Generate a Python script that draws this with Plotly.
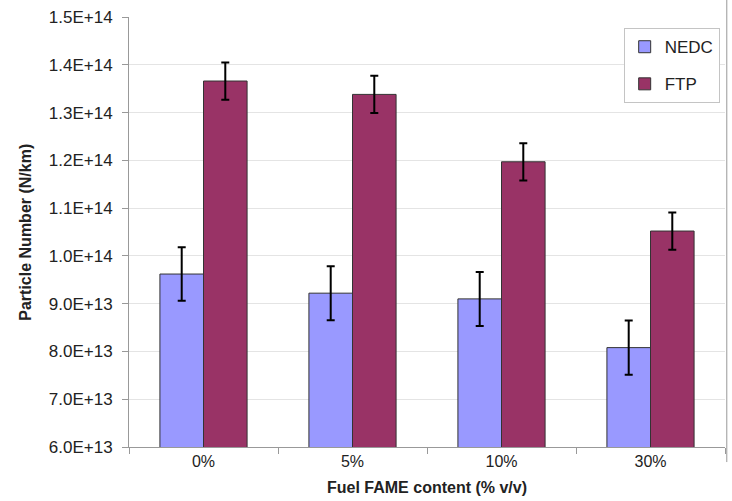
import plotly.graph_objects as go

categories = ["0%", "5%", "10%", "30%"]
nedc = [9.62e13, 9.22e13, 9.10e13, 8.08e13]
nedc_err = [0.56e13, 0.565e13, 0.565e13, 0.57e13]
ftp = [13.66e13, 13.38e13, 11.97e13, 10.52e13]
ftp_err = [0.39e13, 0.39e13, 0.39e13, 0.39e13]
y_ticks = [6e13 + i * 1e13 for i in range(10)]
y_tick_labels = ["6.0E+13", "7.0E+13", "8.0E+13", "9.0E+13", "1.0E+14",
                 "1.1E+14", "1.2E+14", "1.3E+14", "1.4E+14", "1.5E+14"]

FONT = "Liberation Sans, Arial, sans-serif"

fig = go.Figure()
fig.add_trace(go.Bar(
    name="NEDC", x=categories, y=nedc, legendgroup="a",
    marker=dict(color="#9999FF", line=dict(color="#333333", width=1)),
    error_y=dict(type="data", array=nedc_err, visible=True,
                 color="black", thickness=2, width=4),
))
fig.add_trace(go.Bar(
    name="FTP", x=categories, y=ftp, legendgroup="b",
    marker=dict(color="#993366", line=dict(color="#333333", width=1)),
    error_y=dict(type="data", array=ftp_err, visible=True,
                 color="black", thickness=2, width=4),
))

fig.update_layout(
    width=732, height=501,
    margin=dict(l=129, r=7, t=17, b=54, autoexpand=False),
    paper_bgcolor="white", plot_bgcolor="white",
    barmode="group", bargap=0.415, bargroupgap=0,
    font=dict(family=FONT, size=16, color="#222222"),
    showlegend=True,
    legend=dict(
        x=0.83, y=0.974, xanchor="left", yanchor="top",
        bgcolor="white", bordercolor="#c4c4c4", borderwidth=1,
        font=dict(family=FONT, size=17, color="#222222"),
        tracegroupgap=12, itemwidth=30,
    ),
    xaxis=dict(
        automargin=False,
        showline=True, linecolor="#999999", linewidth=1,
        ticks="outside", tickson="boundaries", ticklen=6, tickcolor="#999999",
        showgrid=False,
        tickfont=dict(family=FONT, size=16, color="#222222"),
    ),
    yaxis=dict(
        automargin=False,
        range=[6e13, 1.5e14],
        tickmode="array", tickvals=y_ticks, ticktext=y_tick_labels,
        showline=True, linecolor="#999999", linewidth=1,
        ticks="outside", ticklen=6, tickcolor="#999999",
        ticklabelstandoff=6,
        showgrid=True, gridcolor="#e4e4e4", gridwidth=1,
        zeroline=False,
        tickfont=dict(family=FONT, size=17, color="#222222"),
    ),
    annotations=[
        dict(text="<b>Fuel FAME content (% v/v)</b>", xref="paper", yref="paper",
             x=0.5, y=-0.095, xanchor="center", yanchor="middle", showarrow=False,
             font=dict(family=FONT, size=16, color="#222222")),
        dict(text="<b>Particle Number (N/km)</b>", xref="paper", yref="paper",
             x=-0.175, y=0.5, xanchor="center", yanchor="middle", showarrow=False,
             textangle=-90,
             font=dict(family=FONT, size=16, color="#222222")),
    ],
)

fig.add_shape(type="line", xref="paper", yref="paper",
              x0=1.003, x1=1.003, y0=-0.035, y1=1.04,
              line=dict(color="#999999", width=1))

fig.write_html("out.html",
               config={"displayModeBar": False},
               post_script="document.body.style.margin='0';document.body.style.padding='0';")
